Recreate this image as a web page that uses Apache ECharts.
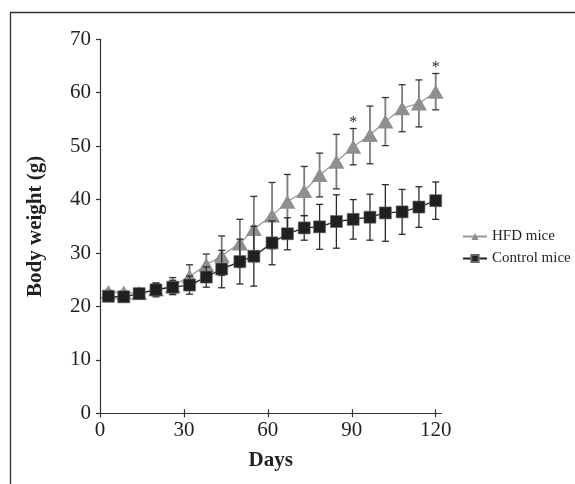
<!DOCTYPE html>
<html>
<head>
<meta charset="utf-8">
<script src="https://cdn.jsdelivr.net/npm/echarts@6/dist/echarts.min.js"></script>
<style>html,body{margin:0;padding:0;background:#fff;}#c{width:575px;height:484px;}</style>
</head>
<body>
<div id="c"></div>
<script>
var days = [3, 8.5, 14, 20, 26, 32, 38, 43.5, 50, 55, 61.5, 67, 73, 78.5, 84.5, 90.5, 96.5, 102, 108, 114, 120];
var hfd = [22.7, 22.6, 22.5, 23.2, 23.8, 25.6, 27.8, 29.5, 31.8, 34.5, 37.0, 39.6, 41.6, 44.6, 47.1, 49.9, 52.1, 54.6, 57.1, 58.0, 60.2];
var hfdErr = [0.3, 0.3, 0.4, 1.1, 1.6, 2.2, 2.0, 3.7, 4.5, 6.1, 6.2, 5.1, 4.6, 4.1, 5.1, 3.4, 5.4, 4.5, 4.4, 4.4, 3.4];
var ctrl = [21.9, 21.8, 22.4, 23.1, 23.6, 24.0, 25.5, 27.0, 28.4, 29.4, 31.9, 33.6, 34.7, 34.9, 35.9, 36.3, 36.7, 37.5, 37.7, 38.6, 39.8];
var ctrlErr = [0.3, 0.3, 0.4, 1.3, 1.3, 1.7, 1.9, 3.5, 4.2, 5.6, 4.1, 3.0, 2.3, 4.2, 5.0, 3.7, 4.3, 5.3, 4.2, 3.8, 3.5];
var starIdx = [15, 20];
var xTicks = [0, 30, 60, 90, 120];
var yTicks = [0, 10, 20, 30, 40, 50, 60, 70];
var seriesNames = ['HFD mice', 'Control mice'];

var FONT = 'Liberation Serif';
var TXT = '#231f20';

function pairs(xs, ys) { return xs.map(function (x, i) { return [x, ys[i]]; }); }
function errData(xs, ys, es) { return xs.map(function (x, i) { return [x, ys[i], es[i]]; }); }

function errRender(stemColor, stemWidth, capColor) {
  return function (params, api) {
    var x = api.value(0), y = api.value(1), e = api.value(2);
    var top = api.coord([x, y + e]);
    var bot = api.coord([x, y - e]);
    var hw = 3.5;
    return {
      type: 'group',
      children: [
        { type: 'line', shape: { x1: top[0], y1: top[1], x2: bot[0], y2: bot[1] }, style: { stroke: stemColor, lineWidth: stemWidth } },
        { type: 'line', shape: { x1: top[0] - hw, y1: top[1], x2: top[0] + hw, y2: top[1] }, style: { stroke: capColor, lineWidth: 1.3 } },
        { type: 'line', shape: { x1: bot[0] - hw, y1: bot[1], x2: bot[0] + hw, y2: bot[1] }, style: { stroke: capColor, lineWidth: 1.3 } }
      ]
    };
  };
}

var chart = echarts.init(document.getElementById('c'), null, { renderer: 'canvas' });
var option = {
  animation: false,
  backgroundColor: '#fff',
  textStyle: { fontFamily: FONT, color: TXT },
  grid: { left: 100, top: 39.3, width: 341.3, height: 374, containLabel: false },
  legend: {
    orient: 'vertical', left: 457, top: 224, itemGap: 7, itemWidth: 24, itemHeight: 9,
    data: seriesNames,
    textStyle: { fontFamily: FONT, fontSize: 15, color: TXT, padding: [0, 0, 0, 0] }
  },
  xAxis: [{
    type: 'value', min: 0, max: 122, interval: 30,
    name: 'Days', nameLocation: 'middle', nameGap: 37,
    nameTextStyle: { fontFamily: FONT, fontSize: 21, fontWeight: 'bold', color: TXT },
    axisLine: { lineStyle: { color: '#333', width: 1.2 } },
    axisTick: { show: true, length: 4, customValues: xTicks, lineStyle: { color: '#333', width: 1.2 } },
    axisLabel: { fontFamily: FONT, fontSize: 21, color: TXT, margin: 7, customValues: xTicks },
    splitLine: { show: false }
  }, {
    type: 'value', min: 0, max: 122, interval: 30, position: 'bottom',
    axisLine: { show: false },
    axisTick: { show: true, inside: true, length: 4, customValues: xTicks.slice(1), lineStyle: { color: '#333', width: 1.2 } },
    axisLabel: { show: false }, splitLine: { show: false }
  }],
  yAxis: {
    type: 'value', min: 0, max: 70, interval: 10,
    name: 'Body weight (g)', nameLocation: 'middle', nameGap: 54,
    nameTextStyle: { fontFamily: FONT, fontSize: 21, fontWeight: 'bold', color: TXT },
    axisLine: { show: true, lineStyle: { color: '#333', width: 1.2 } },
    axisTick: { show: true, length: 4, customValues: yTicks, lineStyle: { color: '#333', width: 1.2 } },
    axisLabel: { fontFamily: FONT, fontSize: 21, color: TXT, margin: 9, customValues: yTicks },
    splitLine: { show: false }
  },
  graphic: [{
    type: 'polyline', silent: true,
    shape: { points: [[10.5, 484], [10.5, 12.5], [575, 12.5]] },
    style: { stroke: '#333', lineWidth: 1.3, fill: null }
  }],
  series: [
    {
      type: 'custom', name: 'hfdErr', renderItem: errRender('#7a7a7a', 1.8, '#333'),
      data: errData(days, hfd, hfdErr), z: 1, silent: true
    },
    {
      type: 'line', name: seriesNames[0], data: pairs(days, hfd),
      symbol: 'triangle', symbolSize: [16, 14],
      lineStyle: { color: '#9a9a9a', width: 1.3 },
      itemStyle: { color: '#8f8f8f', borderWidth: 0 },
      z: 2
    },
    {
      type: 'custom', name: 'ctrlErr', renderItem: errRender('#2a2a2a', 1.3, '#2a2a2a'),
      data: errData(days, ctrl, ctrlErr), z: 3, silent: true
    },
    {
      type: 'line', name: seriesNames[1], data: pairs(days, ctrl),
      symbol: 'rect', symbolSize: 12,
      lineStyle: { color: '#222', width: 1.3 },
      itemStyle: { color: '#231f20', borderColor: '#666', borderWidth: 0.6 },
      z: 4
    },
    {
      type: 'custom', name: 'stars', silent: true,
      data: starIdx.map(function (i) { return [days[i], hfd[i] + hfdErr[i]]; }),
      renderItem: function (params, api) {
        var p = api.coord([api.value(0), api.value(1)]);
        return {
          type: 'text',
          style: { text: '*', x: p[0], y: p[1] + 2, align: 'center', verticalAlign: 'bottom',
            font: '16px "' + FONT + '"', fill: TXT }
        };
      },
      z: 5
    }
  ]
};
chart.setOption(option);
</script>
</body>
</html>
